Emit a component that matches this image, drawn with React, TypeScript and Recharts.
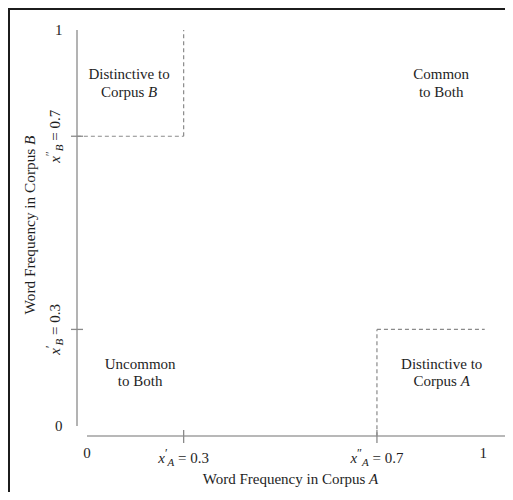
import React from "react";
import { ComposedChart, XAxis, YAxis, Scatter, ReferenceLine, Label } from "recharts";

const FONT = '"Liberation Serif", "DejaVu Serif", serif';
const INK = "#1e1e1e";
const AXIS_COLOR = "#a0a0a0";
const DASH_COLOR = "#8a8a8a";
const AXIS_OFFSET = 10;

// schematic domains
const xDomain: [number, number] = [0.1, 0.965];
const yDomain: [number, number] = [0.1, 0.92];

// thresholds
const thresholdA = [0.3, 0.7];
const thresholdB = [0.3, 0.7];

// ticks
const xTickValues = [0.1, 0.3, 0.7, 0.92];
const xTickLabels = ["0", "x′_A = 0.3", "x″_A = 0.7", "1"];
const yTickValues = [0.1, 0.3, 0.7, 0.92];
const yTickLabels = ["0", "x′_B = 0.3", "x″_B = 0.7", "1"];

// region annotations
const regionLabels = [
  "Distinctive to|Corpus *B*",
  "Common|to Both",
  "Uncommon|to Both",
  "Distinctive to|Corpus *A*",
];
const regionX = [0.187, 0.833, 0.21, 0.834];
const regionY = [0.8, 0.8, 0.2, 0.2];

// dashed box edges
const axisEdge = 0.079;
const topEdge = 0.92;
const rightEdge = 0.923;

const regions = regionLabels.map((label, i) => ({ x: regionX[i], y: regionY[i], label }));

const dashedSegments = [
  [{ x: axisEdge, y: thresholdB[1] }, { x: thresholdA[0], y: thresholdB[1] }],
  [{ x: thresholdA[0], y: thresholdB[1] }, { x: thresholdA[0], y: topEdge }],
  [{ x: thresholdA[1], y: axisEdge }, { x: thresholdA[1], y: thresholdB[0] }],
  [{ x: thresholdA[1], y: thresholdB[0] }, { x: rightEdge, y: thresholdB[0] }],
];

const near = (a: number, b: number) => Math.abs(a - b) < 1e-9;

function renderRich(s: string) {
  const parts = s.split("*");
  return parts.map((p, i) =>
    i % 2 === 1 ? (
      <tspan key={i} fontStyle="italic">
        {p}
      </tspan>
    ) : (
      <tspan key={i}>{p.replace(/ /g, "\u00a0")}</tspan>
    )
  );
}

function MathText({ x, y, label }: { x: number; y: number; label: string }) {
  const m = label.match(/^x([′″])_(\w) = (.*)$/);
  if (!m) {
    return (
      <text x={x} y={y} textAnchor="middle" fontFamily={FONT} fontSize={15} fill={INK}>
        {label}
      </text>
    );
  }
  const [, prime, sub, value] = m;
  return (
    <text x={x} y={y} textAnchor="middle" fontFamily={FONT} fontSize={15} fill={INK}>
      <tspan fontStyle="italic">x</tspan>
      <tspan fontSize={12} dy={-6}>
        {prime}
      </tspan>
      <tspan fontSize={11} fontStyle="italic" dy={9}>
        {sub}
      </tspan>
      <tspan dy={-3}>{"\u00a0=\u00a0" + value}</tspan>
    </text>
  );
}

function XTick(props: any) {
  const { x, y, payload } = props;
  const v = payload.value;
  const i = xTickValues.findIndex((t) => near(t, v));
  const label = xTickLabels[i] ?? "";
  const isThr = thresholdA.some((t) => near(t, v));
  const ay = y + AXIS_OFFSET;
  return (
    <g>
      {isThr && <line x1={x} x2={x} y1={ay - 6} y2={ay + 7} stroke="#8a8a8a" strokeWidth={1.3} />}
      {isThr ? (
        <MathText x={x} y={y + 37} label={label} />
      ) : (
        <text x={x} y={y + 32} textAnchor="middle" fontFamily={FONT} fontSize={15} fill={INK}>
          {label}
        </text>
      )}
    </g>
  );
}

function YTick(props: any) {
  const { x, y, payload } = props;
  const v = payload.value;
  const i = yTickValues.findIndex((t) => near(t, v));
  const label = yTickLabels[i] ?? "";
  const isThr = thresholdB.some((t) => near(t, v));
  const ax = x - AXIS_OFFSET;
  return (
    <g>
      {isThr && <line x1={ax - 6} x2={ax + 6} y1={y} y2={y} stroke="#8a8a8a" strokeWidth={1.3} />}
      {isThr ? (
        <g transform={`translate(${x - 27},${y}) rotate(-90)`}>
          <MathText x={0} y={0} label={label} />
        </g>
      ) : (
        <text x={x - 24.5} y={y + 5} textAnchor="end" fontFamily={FONT} fontSize={15} fill={INK}>
          {label}
        </text>
      )}
    </g>
  );
}

function RegionLabel(props: any) {
  const { cx, cy, payload } = props;
  const lines = String(payload.label).split("|");
  return (
    <g>
      {lines.map((ln, i) => (
        <text
          key={i}
          x={cx}
          y={cy - 8.7 + i * 17.4}
          textAnchor="middle"
          fontFamily={FONT}
          fontSize={15}
          fill={INK}
        >
          {renderRich(ln)}
        </text>
      ))}
    </g>
  );
}

function XTitle(props: any) {
  const vb = props.viewBox || { x: 0, y: 0, width: 0 };
  return (
    <text
      x={vb.x + vb.width / 2 - 5.5}
      y={vb.y + 58}
      textAnchor="middle"
      fontFamily={FONT}
      fontSize={15}
      fill={INK}
    >
      {renderRich("Word Frequency in Corpus *A*")}
    </text>
  );
}

function YTitle(props: any) {
  const vb = props.viewBox || { x: 0, y: 0, height: 0 };
  const cx = vb.x + 27;
  const cy = vb.y + vb.height / 2 - 3;
  return (
    <text
      transform={`translate(${cx},${cy}) rotate(-90)`}
      textAnchor="middle"
      fontFamily={FONT}
      fontSize={15.3}
      fill={INK}
    >
      {renderRich("Word Frequency in Corpus *B*")}
    </text>
  );
}

export default function App() {
  return (
    <div style={{ position: "relative", width: 497, height: 484, overflow: "hidden", background: "#fff" }}>
      <ComposedChart width={497} height={484} margin={{ top: 22, right: 0, bottom: 0, left: 0 }} data={regions}>
        <XAxis
          type="number"
          dataKey="x"
          domain={xDomain}
          allowDataOverflow
          ticks={xTickValues}
          interval={0}
          height={66}
          tickSize={0}
          tickMargin={0}
          tickLine={false}
          axisLine={{ stroke: AXIS_COLOR, strokeWidth: 1.6, transform: `translate(0,${AXIS_OFFSET})` } as any}
          tick={(p: any) => <XTick {...p} />}
        >
          <Label content={(p: any) => <XTitle {...p} />} />
        </XAxis>
        <YAxis
          type="number"
          dataKey="y"
          domain={yDomain}
          allowDataOverflow
          ticks={yTickValues}
          interval={0}
          width={79}
          tickSize={0}
          tickMargin={0}
          tickLine={false}
          axisLine={{ stroke: AXIS_COLOR, strokeWidth: 1.6, transform: `translate(${-AXIS_OFFSET},0)` } as any}
          tick={(p: any) => <YTick {...p} />}
        >
          <Label content={(p: any) => <YTitle {...p} />} />
        </YAxis>
        {dashedSegments.map((seg, i) => (
          <ReferenceLine
            key={i}
            segment={seg}
            stroke={DASH_COLOR}
            strokeWidth={1.2}
            strokeDasharray="4 3"
            ifOverflow="visible"
          />
        ))}
        <Scatter data={regions} dataKey="y" isAnimationActive={false} shape={(p: any) => <RegionLabel {...p} />} />
      </ComposedChart>
      <div
        style={{
          position: "absolute",
          left: 0,
          top: 0,
          width: "100%",
          height: "100%",
          boxSizing: "border-box",
          borderLeft: "2.5px solid #1c1c1c",
          borderTop: "2.5px solid #1c1c1c",
          pointerEvents: "none",
        }}
      />
    </div>
  );
}
